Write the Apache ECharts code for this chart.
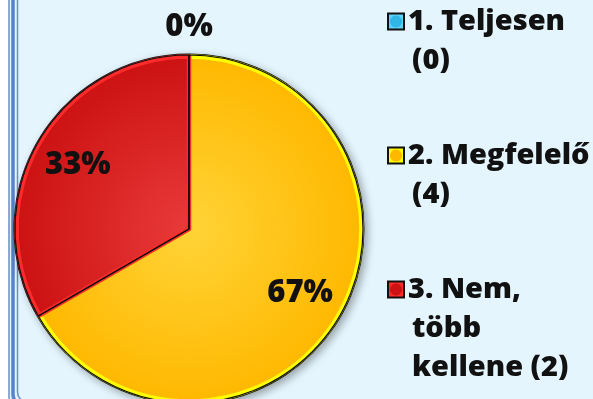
<!DOCTYPE html>
<html>
<head>
<meta charset="utf-8">
<script src="https://cdn.jsdelivr.net/npm/echarts@6/dist/echarts.min.js"></script>
<style>
  html, body { margin: 0; padding: 0; background: #ffffff; }
  #chart { width: 593px; height: 399px; }
</style>
</head>
<body>
<div id="chart"></div>
<script>
// Survey answers and their counts
const categories = ['1. Teljesen', '2. Megfelelő', '3. Nem, több kellene'];
const counts = [0, 4, 2];
// Legend wording, broken into lines; {n} is replaced by the count
const legendText = ['1. Teljesen\n({n})', '2. Megfelelő\n({n})', '3. Nem,\ntöbb\nkellene ({n})'];

// Slice fills: [inner highlight, outer tone, bevel edge]
const sliceColors = [
  ['#7fdcf8', '#2fb6e6', '#5fd2f6'],
  ['#ffd437', '#ffb800', '#ffff00'],
  ['#ea3a3a', '#cc1212', '#ff2a2a']
];

const CX = 189, CY = 229, R = 174;
const FONT = '"Open Sans"';
const WEIGHT = 800;
const LINE = 39;

const pieData = categories.map((name, i) => ({ name, value: counts[i] }));

const chart = echarts.init(document.getElementById('chart'), null, { renderer: 'canvas' });

// rich styles for the legend: a bevelled square marker per answer plus text
const legendRich = {
  t: { fontFamily: FONT, fontWeight: WEIGHT, fontSize: 29, color: '#111', lineHeight: LINE, padding: [0, 0, 0, 5] },
  sp: { width: 18, lineHeight: LINE }
};
sliceColors.forEach((c, i) => {
  legendRich['m' + i] = {
    width: 14, height: 14, lineHeight: LINE,
    backgroundColor: {
      type: 'radial', x: 0.5, y: 0.5, r: 0.7,
      colorStops: [{ offset: 0, color: c[1] }, { offset: 0.45, color: c[1] }, { offset: 0.5, color: c[2] }, { offset: 1, color: c[2] }]
    },
    borderColor: '#111', borderWidth: 2
  };
});

const option = {
  backgroundColor: '#ffffff',
  animation: false,
  graphic: [
    { type: 'rect', z: -10, shape: { x: 9, y: -30, width: 700, height: 440, r: 14 },
      style: { fill: '#e4f5fd', stroke: '#6a90cc', lineWidth: 1.5 } },
    { type: 'rect', z: -9, shape: { x: 13, y: -30, width: 700, height: 436, r: 12 },
      style: { fill: null, stroke: '#5a84c4', lineWidth: 3.5 } },
    { type: 'rect', z: -9, shape: { x: 17.5, y: -30, width: 700, height: 432, r: 10 },
      style: { fill: null, stroke: '#6a90cc', lineWidth: 1.5 } }
  ],
  legend: {
    orient: 'vertical',
    left: 384,
    top: 7,
    height: 800,
    itemGap: 66,
    padding: 0,
    itemWidth: 0,
    itemHeight: 1,
    icon: 'none',
    selectedMode: false,
    data: categories,
    formatter: name => {
      const i = categories.indexOf(name);
      const lines = legendText[i].replace('{n}', counts[i]).split('\n');
      return lines.map((ln, k) => (k === 0 ? '{m' + i + '|}' : '{sp|}') + '{t|' + ln + '}').join('\n');
    },
    textStyle: { rich: legendRich }
  },
  series: [
    // dark rim with soft drop shadow
    {
      type: 'pie', center: [CX, CY], radius: R + 1.5, startAngle: 90, clockwise: true,
      silent: true, label: { show: false }, labelLine: { show: false },
      data: pieData,
      itemStyle: { color: '#111', shadowBlur: 8, shadowOffsetX: 3, shadowOffsetY: 3, shadowColor: 'rgba(0,0,0,0.35)' }
    },
    // bevelled slices
    {
      type: 'pie', center: [CX, CY], radius: R - 1.5, startAngle: 90, clockwise: true,
      silent: true, label: { show: false }, labelLine: { show: false },
      data: pieData.map((d, i) => ({
        name: d.name, value: d.value,
        itemStyle: {
          color: {
            type: 'radial', x: CX, y: CY, r: R, global: true,
            colorStops: [{ offset: 0, color: sliceColors[i][0] }, { offset: 1, color: sliceColors[i][1] }]
          },
          borderColor: sliceColors[i][2],
          borderWidth: 4.5
        }
      }))
    },
    // slice separators
    {
      type: 'pie', center: [CX, CY], radius: R, startAngle: 90, clockwise: true,
      silent: true, label: { show: false }, labelLine: { show: false },
      data: pieData,
      itemStyle: { color: 'rgba(0,0,0,0)', borderColor: '#111', borderWidth: 1.2 }
    },
    // percentage labels
    {
      type: 'pie', center: [CX, CY], radius: [R * 0.44, R], startAngle: 90, clockwise: true,
      silent: true, percentPrecision: 0, avoidLabelOverlap: false,
      data: pieData.map(d => ({
        name: d.name, value: d.value,
        label: { position: d.value === 0 ? 'outside' : 'inside' },
        labelLine: { show: false, length: 14, length2: 0 }
      })),
      itemStyle: { color: 'rgba(0,0,0,0)', borderWidth: 0 },
      label: {
        show: true,
        formatter: '{d}%',
        fontFamily: FONT,
        fontWeight: WEIGHT,
        fontSize: 31,
        color: '#111'
      },
      // an empty slice has no area, so its label sits centred just above the rim
      labelLayout: params => {
        if (counts[params.dataIndex] !== 0) return {};
        return {
          x: params.rect.x + params.rect.width / 2,
          y: params.rect.y - 28,
          align: 'center',
          verticalAlign: 'middle'
        };
      }
    }
  ]
};

chart.setOption(option);
</script>
</body>
</html>
